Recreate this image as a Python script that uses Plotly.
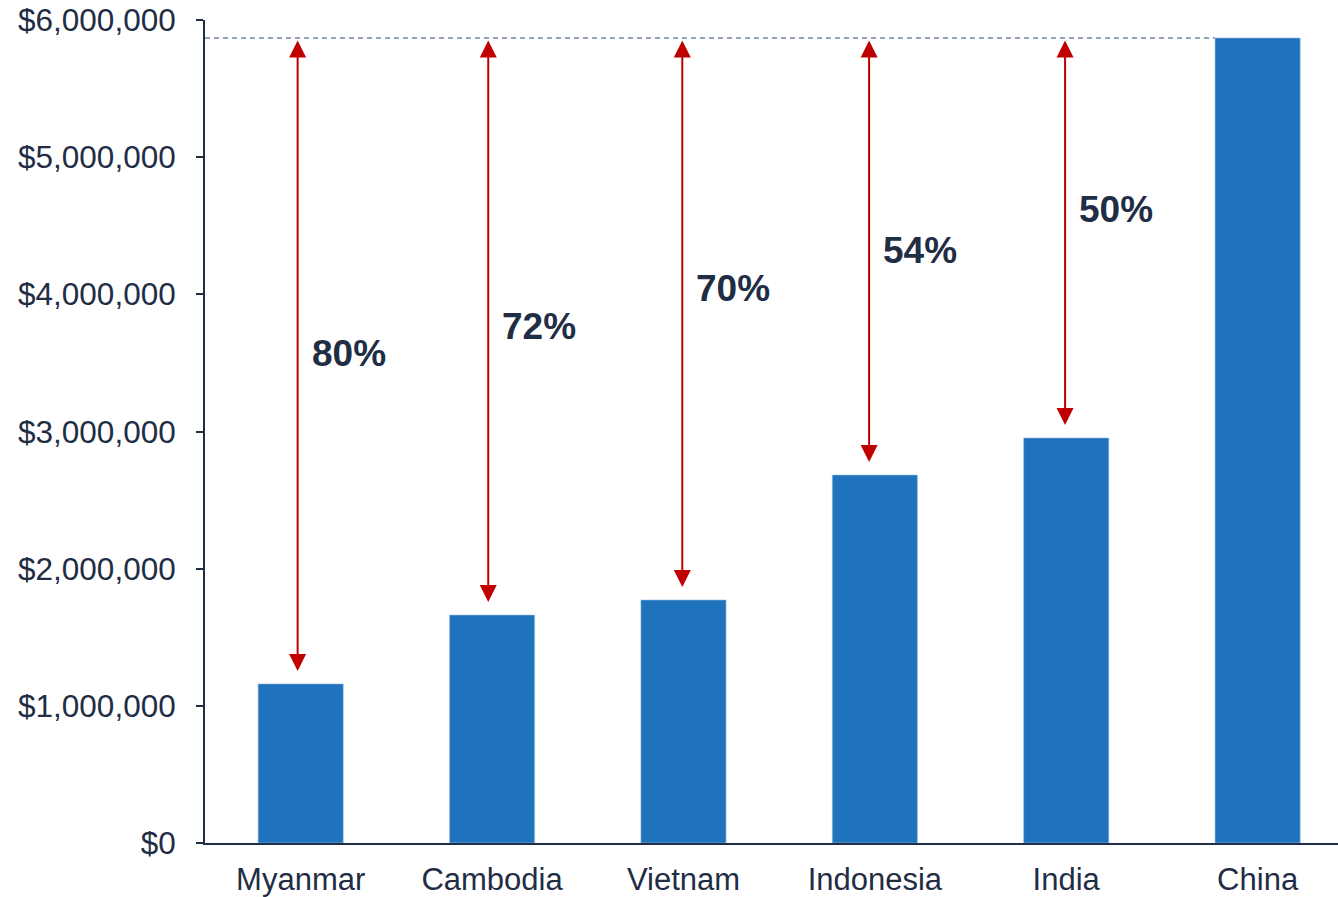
import plotly.graph_objects as go

countries = ["Myanmar", "Cambodia", "Vietnam", "Indonesia", "India", "China"]
values = [1160000, 1662000, 1772000, 2683000, 2953000, 5869000]
pct_labels = ["80%", "72%", "70%", "54%", "50%"]
label_y = [3572000, 3769000, 4039000, 4316000, 4615000]
y_ticks = [0, 1000000, 2000000, 3000000, 4000000, 5000000, 6000000]
y_tick_text = ["$0", "$1,000,000", "$2,000,000", "$3,000,000", "$4,000,000", "$5,000,000", "$6,000,000"]
arrow_dx = [-0.016, -0.02, -0.006, -0.03, -0.006]

NAVY = "#1f2d45"
BAR = "#1f72bc"
RED = "#c00000"
FONT = "Liberation Sans, Arial, sans-serif"

fig = go.Figure()
fig.add_trace(go.Bar(
    x=list(range(len(countries))), y=values, width=0.445,
    marker=dict(color=BAR, line=dict(color="#9cc3e6", width=0.6)),
    hoverinfo="skip",
))

top = values[-1]
bar_half = 0.445 / 2
fig.add_shape(type="line", xref="x", yref="y",
              x0=-0.5, x1=len(countries) - 1 - bar_half, y0=top, y1=top,
              line=dict(color="#7487a8", width=1.5, dash="5px,4px"), layer="below")

for i, (v, lab, ly, dx) in enumerate(zip(values[:-1], pct_labels, label_y, arrow_dx)):
    fig.add_annotation(x=i + dx, y=v, ax=i + dx, ay=top, xref="x", yref="y", axref="x", ayref="y",
                       text="", showarrow=True, arrowhead=2, startarrowhead=2,
                       arrowside="end+start", arrowsize=1.7, startarrowsize=1.7,
                       arrowwidth=2, arrowcolor=RED, standoff=13, startstandoff=1)
    fig.add_annotation(x=i + dx, y=ly, xref="x", yref="y", text="<b>%s</b>" % lab,
                       showarrow=False, xanchor="left", yanchor="middle", xshift=12,
                       font=dict(family=FONT, size=37, color=NAVY))

fig.update_layout(
    width=1338, height=897, margin=dict(l=205, r=0, t=20, b=54),
    paper_bgcolor="white", plot_bgcolor="white", showlegend=False,
    font=dict(family=FONT, size=31, color=NAVY),
    xaxis=dict(range=[-0.5, 5.42], tickmode="array", tickvals=list(range(len(countries))),
               ticktext=countries, showline=True, linecolor=NAVY, linewidth=2,
               showgrid=False, zeroline=False, ticks="", fixedrange=True,
               ticklabelstandoff=8, automargin=False,
               tickfont=dict(family=FONT, size=31, color=NAVY)),
    yaxis=dict(range=[0, 6000000], tickmode="array", tickvals=y_ticks, ticktext=y_tick_text,
               showline=True, linecolor=NAVY, linewidth=2, showgrid=False, zeroline=False,
               ticks="outside", ticklen=7, tickwidth=1.5, tickcolor=NAVY,
               ticklabelstandoff=14, automargin=False,
               tickfont=dict(family=FONT, size=31.5, color=NAVY), fixedrange=True),
)

fig.write_html("out.html", config={"displayModeBar": False})
